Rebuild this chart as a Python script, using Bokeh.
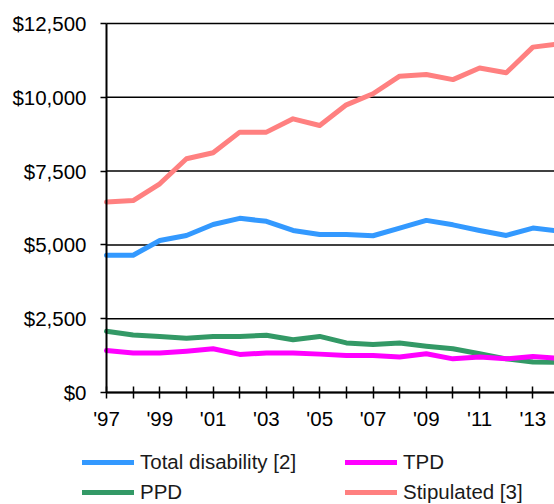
from bokeh.plotting import figure
from bokeh.models import (FixedTicker, NumeralTickFormatter, Legend, LegendItem, Range1d)
from bokeh.embed import file_html
from bokeh.resources import INLINE

years = list(range(1997, 2015))
total_disability = [4650, 4650, 5150, 5320, 5690, 5900, 5800, 5490, 5350, 5350, 5310,
                    5570, 5830, 5680, 5490, 5320, 5570, 5470]
tpd = [1420, 1340, 1340, 1400, 1480, 1290, 1340, 1340, 1300, 1250, 1250,
       1200, 1310, 1140, 1200, 1140, 1220, 1160]
ppd = [2075, 1950, 1900, 1840, 1900, 1900, 1940, 1785, 1900, 1680, 1625,
       1680, 1570, 1480, 1310, 1140, 1030, 1020]
stipulated = [6450, 6500, 7070, 7920, 8120, 8820, 8820, 9270, 9045, 9745, 10120,
              10715, 10770, 10600, 10990, 10830, 11700, 11810]
y_ticks = [0, 2500, 5000, 7500, 10000, 12500]
x_labels = {y: ("'" + str(y)[2:] if y % 2 == 1 else "") for y in years}

FONT = "Liberation Sans"
PX_PER_YEAR = 26.65
PX_PER_UNIT = 369 / 12500

# the whole canvas is the frame; axes sit at fixed data positions inside it
x0 = years[0] - 106 / PX_PER_YEAR
x1 = years[0] + 448 / PX_PER_YEAR
y0 = -112 / PX_PER_UNIT
y1 = 392 / PX_PER_UNIT

p = figure(width=554, height=504, output_backend="svg", toolbar_location=None,
           x_range=Range1d(x0, x1), y_range=Range1d(y0, y1),
           min_border_left=0, min_border_right=0, min_border_top=0, min_border_bottom=0)
p.outline_line_color = None
p.background_fill_color = "white"
p.border_fill_color = "white"
p.xgrid.grid_line_color = None
p.ygrid.grid_line_color = None

# horizontal gridlines from the y tick values, starting at the y axis
p.segment(x0=[years[0]] * len(y_ticks), x1=[years[-1] + 1] * len(y_ticks),
          y0=y_ticks, y1=y_ticks, line_color="black", line_width=1.5)

p.yaxis.fixed_location = years[0]
p.yaxis.bounds = (y_ticks[0], y_ticks[-1])
p.yaxis.ticker = FixedTicker(ticks=y_ticks)
p.yaxis.formatter = NumeralTickFormatter(format="$0,0")
p.yaxis.major_tick_in = 0
p.yaxis.major_tick_out = 6
p.yaxis.minor_tick_line_color = None
p.yaxis.axis_line_width = 2
p.yaxis.major_tick_line_width = 1.5
p.yaxis.major_label_standoff = 14

p.xaxis.fixed_location = 0
p.xaxis.bounds = (years[0], years[-1] + 1)
p.xaxis.ticker = FixedTicker(ticks=years)
p.xaxis.major_label_overrides = x_labels
p.xaxis.major_tick_in = 6
p.xaxis.major_tick_out = 6
p.xaxis.minor_tick_line_color = None
p.xaxis.axis_line_width = 2
p.xaxis.major_tick_line_width = 1.5
p.xaxis.major_label_standoff = 8

for ax in (p.xaxis, p.yaxis):
    ax.major_label_text_font = FONT
    ax.major_label_text_font_size = "20.5px"
    ax.major_label_text_color = "black"
    ax.axis_line_color = "black"
    ax.major_tick_line_color = "black"

lw = 5
kw = dict(line_width=lw, line_cap="round", line_join="round")
r_sti = p.line(years, stipulated, line_color="#FF8080", **kw)
r_tot = p.line(years, total_disability, line_color="#3399FF", **kw)
r_ppd = p.line(years, ppd, line_color="#339966", **kw)
r_tpd = p.line(years, tpd, line_color="#FF00FF", **kw)

legend = Legend(items=[
    LegendItem(label="Total disability [2]", renderers=[r_tot]),
    LegendItem(label="PPD", renderers=[r_ppd]),
    LegendItem(label="TPD", renderers=[r_tpd]),
    LegendItem(label="Stipulated [3]", renderers=[r_sti]),
], ncols=2, orientation="vertical", location=(82, 0),
    glyph_width=52, glyph_height=20, label_height=20, label_width=199,
    label_standoff=6, spacing=6, padding=0, margin=0,
    label_text_font=FONT, label_text_font_size="20.5px", label_text_color="#1a1a1a",
    border_line_color=None, background_fill_alpha=0)
p.add_layout(legend, "center")

open("out.html", "w").write(file_html(p, INLINE))
